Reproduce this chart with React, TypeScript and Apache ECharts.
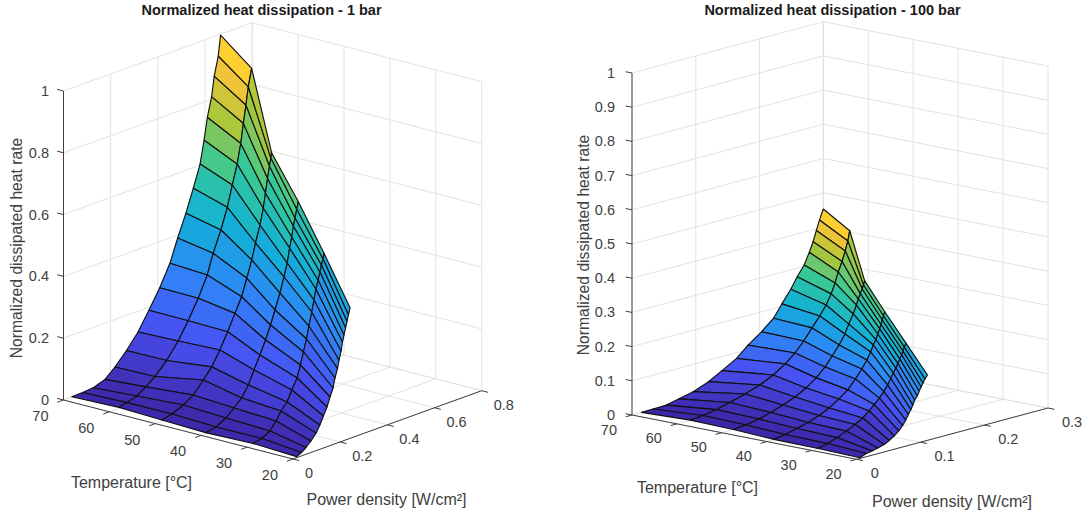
import React, { useEffect, useRef } from "react";
import * as echarts from "echarts";

const temperatures = [20, 30, 40, 50, 60, 70];
const parula = ["#3E26A8", "#4852F4", "#2E87F7", "#12B1D6", "#37C897", "#ABC739", "#FEC338", "#F9FB15"];

// Power density [W/cm2] per temperature (rows of the mesh) - 1 bar
const power1_20 = [.016,.036,.055,.076,.098,.114,.129,.144,.157,.170,.178,.189,.195,.204,.210,.216,.223,.229,.235,.242];
const power1_30 = [.025,.063,.097,.123,.144,.169,.190,.212,.226,.239,.252,.262,.274,.284,.292,.301,.309,.315,.322,.326];
const power1_40 = [.019,.063,.105,.139,.172,.200,.224,.249,.273,.294,.313,.334,.351,.365,.375,.384,.391,.398,.405,.412];
const power1_50 = [.028,.071,.119,.161,.204,.239,.274,.307,.338,.366,.388,.409,.425,.444,.458,.467,.476,.484,.490,.493];
const power1_60 = [.041,.075,.117,.155,.193,.243,.292,.334,.377,.415,.440,.473,.500,.521,.542,.557,.568,.579,.589,.603];
const power1_70 = [.035,.081,.126,.176,.218,.267,.316,.362,.408,.451,.484,.519,.550,.579,.596,.610,.628,.639,.656,.666];
// Normalized dissipated heat rate - 1 bar
const heat1_20 = [.0032,.011,.022,.0372,.0573,.0783,.1036,.1285,.1573,.1828,.2129,.2408,.2663,.2932,.3207,.3414,.3625,.3819,.401,.423];
const heat1_30 = [.0052,.0107,.0256,.0508,.0773,.0997,.1327,.1654,.2036,.2421,.2806,.3197,.3618,.3981,.4314,.4579,.4816,.5026,.5201,.5375];
const heat1_40 = [.0036,.0099,.0273,.0502,.0736,.1079,.1498,.1913,.2334,.2761,.3194,.3685,.4157,.4571,.5029,.5361,.5696,.5937,.6208,.6426];
const heat1_50 = [.004,.0116,.0275,.0479,.0848,.1175,.1625,.2126,.2634,.3094,.3631,.4165,.467,.5201,.5712,.6172,.6618,.70,.724,.7405];
const heat1_60 = [.003,.009,.019,.038,.0608,.0987,.1485,.2022,.2632,.3281,.3913,.4577,.5236,.5899,.6521,.7152,.7767,.833,.8893,.945];
const heat1_70 = [.001,.002,.005,.018,.0466,.0864,.1327,.1904,.2505,.3178,.3906,.4612,.533,.6035,.6767,.7466,.8082,.8718,.932,.997];

// Power density [W/cm2] per temperature - 100 bar
const power100_20 = [.005,.015,.024,.033,.043,.051,.059,.066,.072,.077,.081,.085,.088,.091,.095,.098,.101,.104,.107,.111];
const power100_30 = [.010,.025,.040,.054,.068,.080,.090,.098,.106,.113,.119,.124,.128,.132,.135,.138,.141,.143,.145,.148];
const power100_40 = [.011,.029,.047,.065,.082,.098,.113,.127,.139,.149,.157,.163,.167,.171,.174,.177,.179,.181,.183,.185];
const power100_50 = [.018,.038,.058,.077,.096,.115,.132,.148,.162,.173,.184,.193,.199,.206,.211,.214,.217,.220,.222,.224];
const power100_60 = [.021,.041,.062,.083,.107,.130,.151,.170,.185,.199,.212,.224,.234,.242,.248,.253,.259,.264,.268,.271];
const power100_70 = [.015,.033,.054,.073,.096,.120,.141,.164,.182,.203,.222,.235,.249,.259,.270,.278,.284,.289,.294,.300];
// Normalized dissipated heat rate - 100 bar
const heat100_20 = [.002,.0096,.0123,.0164,.0219,.0295,.0389,.05,.0629,.0763,.0904,.1029,.1146,.1278,.1377,.1509,.1611,.1711,.1813,.1909];
const heat100_30 = [.0006,.0076,.0175,.0295,.0418,.055,.0705,.0851,.1,.1155,.1316,.1482,.1623,.1749,.1865,.198,.2085,.219,.2295,.2392];
const heat100_40 = [.0009,.0061,.0146,.0234,.0354,.0494,.0678,.0877,.1135,.1377,.1599,.1804,.1988,.2129,.2275,.2409,.2529,.2649,.2757,.2871];
const heat100_50 = [.0005,.0035,.0111,.0205,.033,.0471,.0646,.0863,.1114,.138,.1646,.1921,.2181,.2442,.2678,.2839,.2982,.3102,.3208,.3319];
const heat100_60 = [.0005,.0041,.0108,.021,.0339,.0485,.0675,.0904,.1146,.1427,.1746,.2032,.2307,.2591,.288,.3175,.3453,.3737,.4009,.4292];
const heat100_70 = [.0003,.001,.002,.0105,.0202,.0374,.0591,.0836,.1135,.1418,.1719,.2073,.243,.2749,.3038,.3368,.3646,.3947,.4234,.4523];

const tempTicks = [20, 30, 40, 50, 60, 70];
const powerTicks1 = [0, 0.2, 0.4, 0.6, 0.8];
const heatTicks1 = [0, 0.2, 0.4, 0.6, 0.8, 1];
const powerTicks100 = [0, 0.1, 0.2, 0.3];
const heatTicks100 = [0, 0.1, 0.2, 0.3, 0.4, 0.5, 0.6, 0.7, 0.8, 0.9, 1];

const FONT = "Liberation Sans, Arial, sans-serif";
const TEXT = "#404040";

type Panel = {
  title: string; titleX: number;
  origin: [number, number]; tVec: [number, number]; pVec: [number, number]; zLen: number;
  pMax: number; cMax: number;
  power: number[][]; heat: number[][];
  pTicks: number[]; zTicks: number[];
  zLabelDx: number; tLabel: [number, number, number]; pLabel: [number, number, number];
  zName: [number, number]; tName: [number, number]; pName: [number, number];
};

const panels: Panel[] = [
  {
    title: "Normalized heat dissipation - 1 bar", titleX: 261.5,
    origin: [293, 459], tVec: [-229.5, -59], pVec: [188.7, -68.3], zLen: 309,
    pMax: 0.8, cMax: 1,
    power: [power1_20, power1_30, power1_40, power1_50, power1_60, power1_70],
    heat: [heat1_20, heat1_30, heat1_40, heat1_50, heat1_60, heat1_70],
    pTicks: powerTicks1, zTicks: heatTicks1,
    zLabelDx: -14.5, tLabel: [-15, 16, 0], pLabel: [12, 14, 0],
    zName: [16, 248], tName: [131.5, 482], pName: [386.5, 499],
  },
  {
    title: "Normalized heat dissipation - 100 bar", titleX: 832.5,
    origin: [856.7, 459.3], tVec: [-224.7, -44.3], pVec: [191.3, -51.3], zLen: 342,
    pMax: 0.3, cMax: 0.4523,
    power: [power100_20, power100_30, power100_40, power100_50, power100_60, power100_70],
    heat: [heat100_20, heat100_30, heat100_40, heat100_50, heat100_60, heat100_70],
    pTicks: powerTicks100, zTicks: heatTicks100,
    zLabelDx: -17, tLabel: [-15, 14.5, 0], pLabel: [14, 13.7, 0],
    zName: [583, 245], tName: [697.5, 487.5], pName: [952, 501],
  },
];

const project = (pn: Panel, T: number, P: number, z: number): [number, number] => {
  const t = (T - 20) / 50;
  const p = P / pn.pMax;
  return [
    pn.origin[0] + t * pn.tVec[0] + p * pn.pVec[0],
    pn.origin[1] + t * pn.tVec[1] + p * pn.pVec[1] - z * pn.zLen,
  ];
};

const seg = (T1: number, P1: number, z1: number, T2: number, P2: number, z2: number) => [T1, P1, z1, T2, P2, z2];

const buildGrid = (pn: Panel) => {
  const out: number[][] = [];
  const zTop = 1;
  const T0 = 20, T1 = 70;
  pn.zTicks.forEach((z) => {
    out.push(seg(T1, 0, z, T1, pn.pMax, z));
    out.push(seg(T1, pn.pMax, z, T0, pn.pMax, z));
  });
  pn.pTicks.forEach((P) => {
    out.push(seg(T1, P, 0, T1, P, zTop));
    out.push(seg(T0, P, 0, T1, P, 0));
  });
  tempTicks.forEach((T) => {
    out.push(seg(T, pn.pMax, 0, T, pn.pMax, zTop));
    out.push(seg(T, 0, 0, T, pn.pMax, 0));
  });
  return out;
};

const buildAxes = (pn: Panel) => [
  seg(70, 0, 0, 70, 0, 1),
  seg(70, 0, 0, 20, 0, 0),
  seg(20, 0, 0, 20, pn.pMax, 0),
];

const TICK = 6.5;
const unit = (v: [number, number]) => {
  const n = Math.hypot(v[0], v[1]);
  return [v[0] / n, v[1] / n];
};

const buildTicks = (pn: Panel) => {
  const out: number[][] = [];
  const ut = unit(pn.tVec), up = unit(pn.pVec);
  pn.zTicks.forEach((z) => out.push([70, 0, z, ut[0] * TICK, ut[1] * TICK]));
  tempTicks.forEach((T) => out.push([T, 0, 0, -up[0] * TICK, -up[1] * TICK]));
  pn.pTicks.forEach((P) => out.push([20, P, 0, -ut[0] * TICK, -ut[1] * TICK]));
  return out;
};

const buildCells = (pn: Panel) => {
  // depth along the viewing direction of the parallel projection
  const b = -pn.tVec[0] / pn.pVec[0];
  const c = (pn.tVec[1] + b * pn.pVec[1]) / pn.zLen;
  const cells: { v: number; corners: number[][]; d: number }[] = [];
  for (let j = 0; j < temperatures.length - 1; j++) {
    for (let i = 0; i < pn.power[j].length - 1; i++) {
      const corners = [
        [temperatures[j], pn.power[j][i], pn.heat[j][i]],
        [temperatures[j + 1], pn.power[j + 1][i], pn.heat[j + 1][i]],
        [temperatures[j + 1], pn.power[j + 1][i + 1], pn.heat[j + 1][i + 1]],
        [temperatures[j], pn.power[j][i + 1], pn.heat[j][i + 1]],
      ];
      let d = 0;
      corners.forEach((q) => {
        d += -(q[0] - 20) / 50 - b * q[1] / pn.pMax + Math.abs(c) * q[2];
      });
      cells.push({ v: pn.heat[j][i], corners, d });
    }
  }
  cells.sort((x, y) => x.d - y.d);
  return cells;
};

const buildOption = () => {
  const series: any[] = [];
  const visualMap: any[] = [];
  const graphic: any[] = [];

  panels.forEach((pn) => {
    const grid = buildGrid(pn);
    const lineItem = (rows: number[][], stroke: string) => ({
      type: "custom", coordinateSystem: "cartesian2d", silent: true, clip: false,
      data: rows,
      renderItem: (params: any, api: any) => {
        const r = rows[params.dataIndex];
        const a = api.coord(project(pn, r[0], r[1], r[2]));
        const b = api.coord(project(pn, r[3], r[4], r[5]));
        return { type: "line", shape: { x1: a[0], y1: a[1], x2: b[0], y2: b[1] }, style: { stroke, lineWidth: 1, fill: null } };
      },
    });
    series.push(lineItem(grid, "#e2e2e2"));
    series.push(lineItem(buildAxes(pn), "#404040"));

    const ticks = buildTicks(pn);
    series.push({
      type: "custom", coordinateSystem: "cartesian2d", silent: true, clip: false,
      data: ticks,
      renderItem: (params: any, api: any) => {
        const r = ticks[params.dataIndex];
        const a = api.coord(project(pn, r[0], r[1], r[2]));
        return { type: "line", shape: { x1: a[0], y1: a[1], x2: a[0] + r[3], y2: a[1] + r[4] }, style: { stroke: "#404040", lineWidth: 1, fill: null } };
      },
    });

    const cells = buildCells(pn);
    visualMap.push({
      show: false, type: "continuous", seriesIndex: series.length, dimension: 0,
      min: 0, max: pn.cMax, inRange: { color: parula },
    });
    series.push({
      type: "custom", coordinateSystem: "cartesian2d", silent: true, clip: false,
      data: cells.map((c) => [c.v]),
      renderItem: (params: any, api: any) => {
        const c = cells[params.dataIndex];
        const points = c.corners.map((q) => api.coord(project(pn, q[0], q[1], q[2])));
        return {
          type: "polygon", shape: { points },
          style: { fill: api.visual("color"), stroke: "#111111", lineWidth: 1.15, lineJoin: "round" },
        };
      },
    });

    const labels: { s: string; T: number; P: number; z: number; dx: number; dy: number; align: string }[] = [];
    pn.zTicks.forEach((z) => labels.push({ s: String(z), T: 70, P: 0, z, dx: pn.zLabelDx, dy: 0, align: "right" }));
    tempTicks.forEach((T) => labels.push({ s: String(T), T, P: 0, z: 0, dx: pn.tLabel[0], dy: pn.tLabel[1], align: "right" }));
    pn.pTicks.forEach((P) => labels.push({ s: String(P), T: 20, P, z: 0, dx: pn.pLabel[0], dy: pn.pLabel[1], align: "left" }));
    series.push({
      type: "custom", coordinateSystem: "cartesian2d", silent: true, clip: false,
      data: labels.map((l) => [l.T, l.P, l.z]),
      renderItem: (params: any, api: any) => {
        const l = labels[params.dataIndex];
        const a = api.coord(project(pn, l.T, l.P, l.z));
        return {
          type: "text",
          style: {
            text: l.s, x: a[0] + l.dx, y: a[1] + l.dy, align: l.align, verticalAlign: "middle",
            font: `14.5px ${FONT}`, fill: TEXT,
          },
        };
      },
    });

    graphic.push({
      type: "text", x: pn.zName[0], y: pn.zName[1], rotation: Math.PI / 2,
      style: { text: "Normalized dissipated heat rate", font: `15.7px ${FONT}`, fill: TEXT, align: "center", verticalAlign: "middle" },
    });
    graphic.push({
      type: "text", x: pn.tName[0], y: pn.tName[1],
      style: { text: "Temperature [°C]", font: `16px ${FONT}`, fill: TEXT, align: "center", verticalAlign: "middle" },
    });
    graphic.push({
      type: "text", x: pn.pName[0], y: pn.pName[1],
      style: { text: "Power density [W/cm²]", font: `16px ${FONT}`, fill: TEXT, align: "center", verticalAlign: "middle" },
    });
  });

  return {
    animation: false,
    backgroundColor: "#ffffff",
    title: panels.map((pn) => ({
      text: pn.title, left: pn.titleX, top: 2, padding: 0, textAlign: "center",
      textStyle: { fontFamily: FONT, fontSize: 14.5, fontWeight: "bold", color: "#1a1a1a" },
    })),
    grid: { left: 0, top: 0, width: 1085, height: 515, show: false },
    xAxis: { type: "value", min: 0, max: 1085, show: false },
    yAxis: { type: "value", min: 0, max: 515, inverse: true, show: false },
    visualMap,
    series,
    graphic,
  };
};

export default function App() {
  const ref = useRef<HTMLDivElement>(null);
  useEffect(() => {
    document.body.style.margin = "0";
    const chart = echarts.init(ref.current!, undefined, { renderer: "svg" });
    chart.setOption(buildOption() as any);
    return () => chart.dispose();
  }, []);
  return <div ref={ref} style={{ width: 1085, height: 515 }} />;
}
